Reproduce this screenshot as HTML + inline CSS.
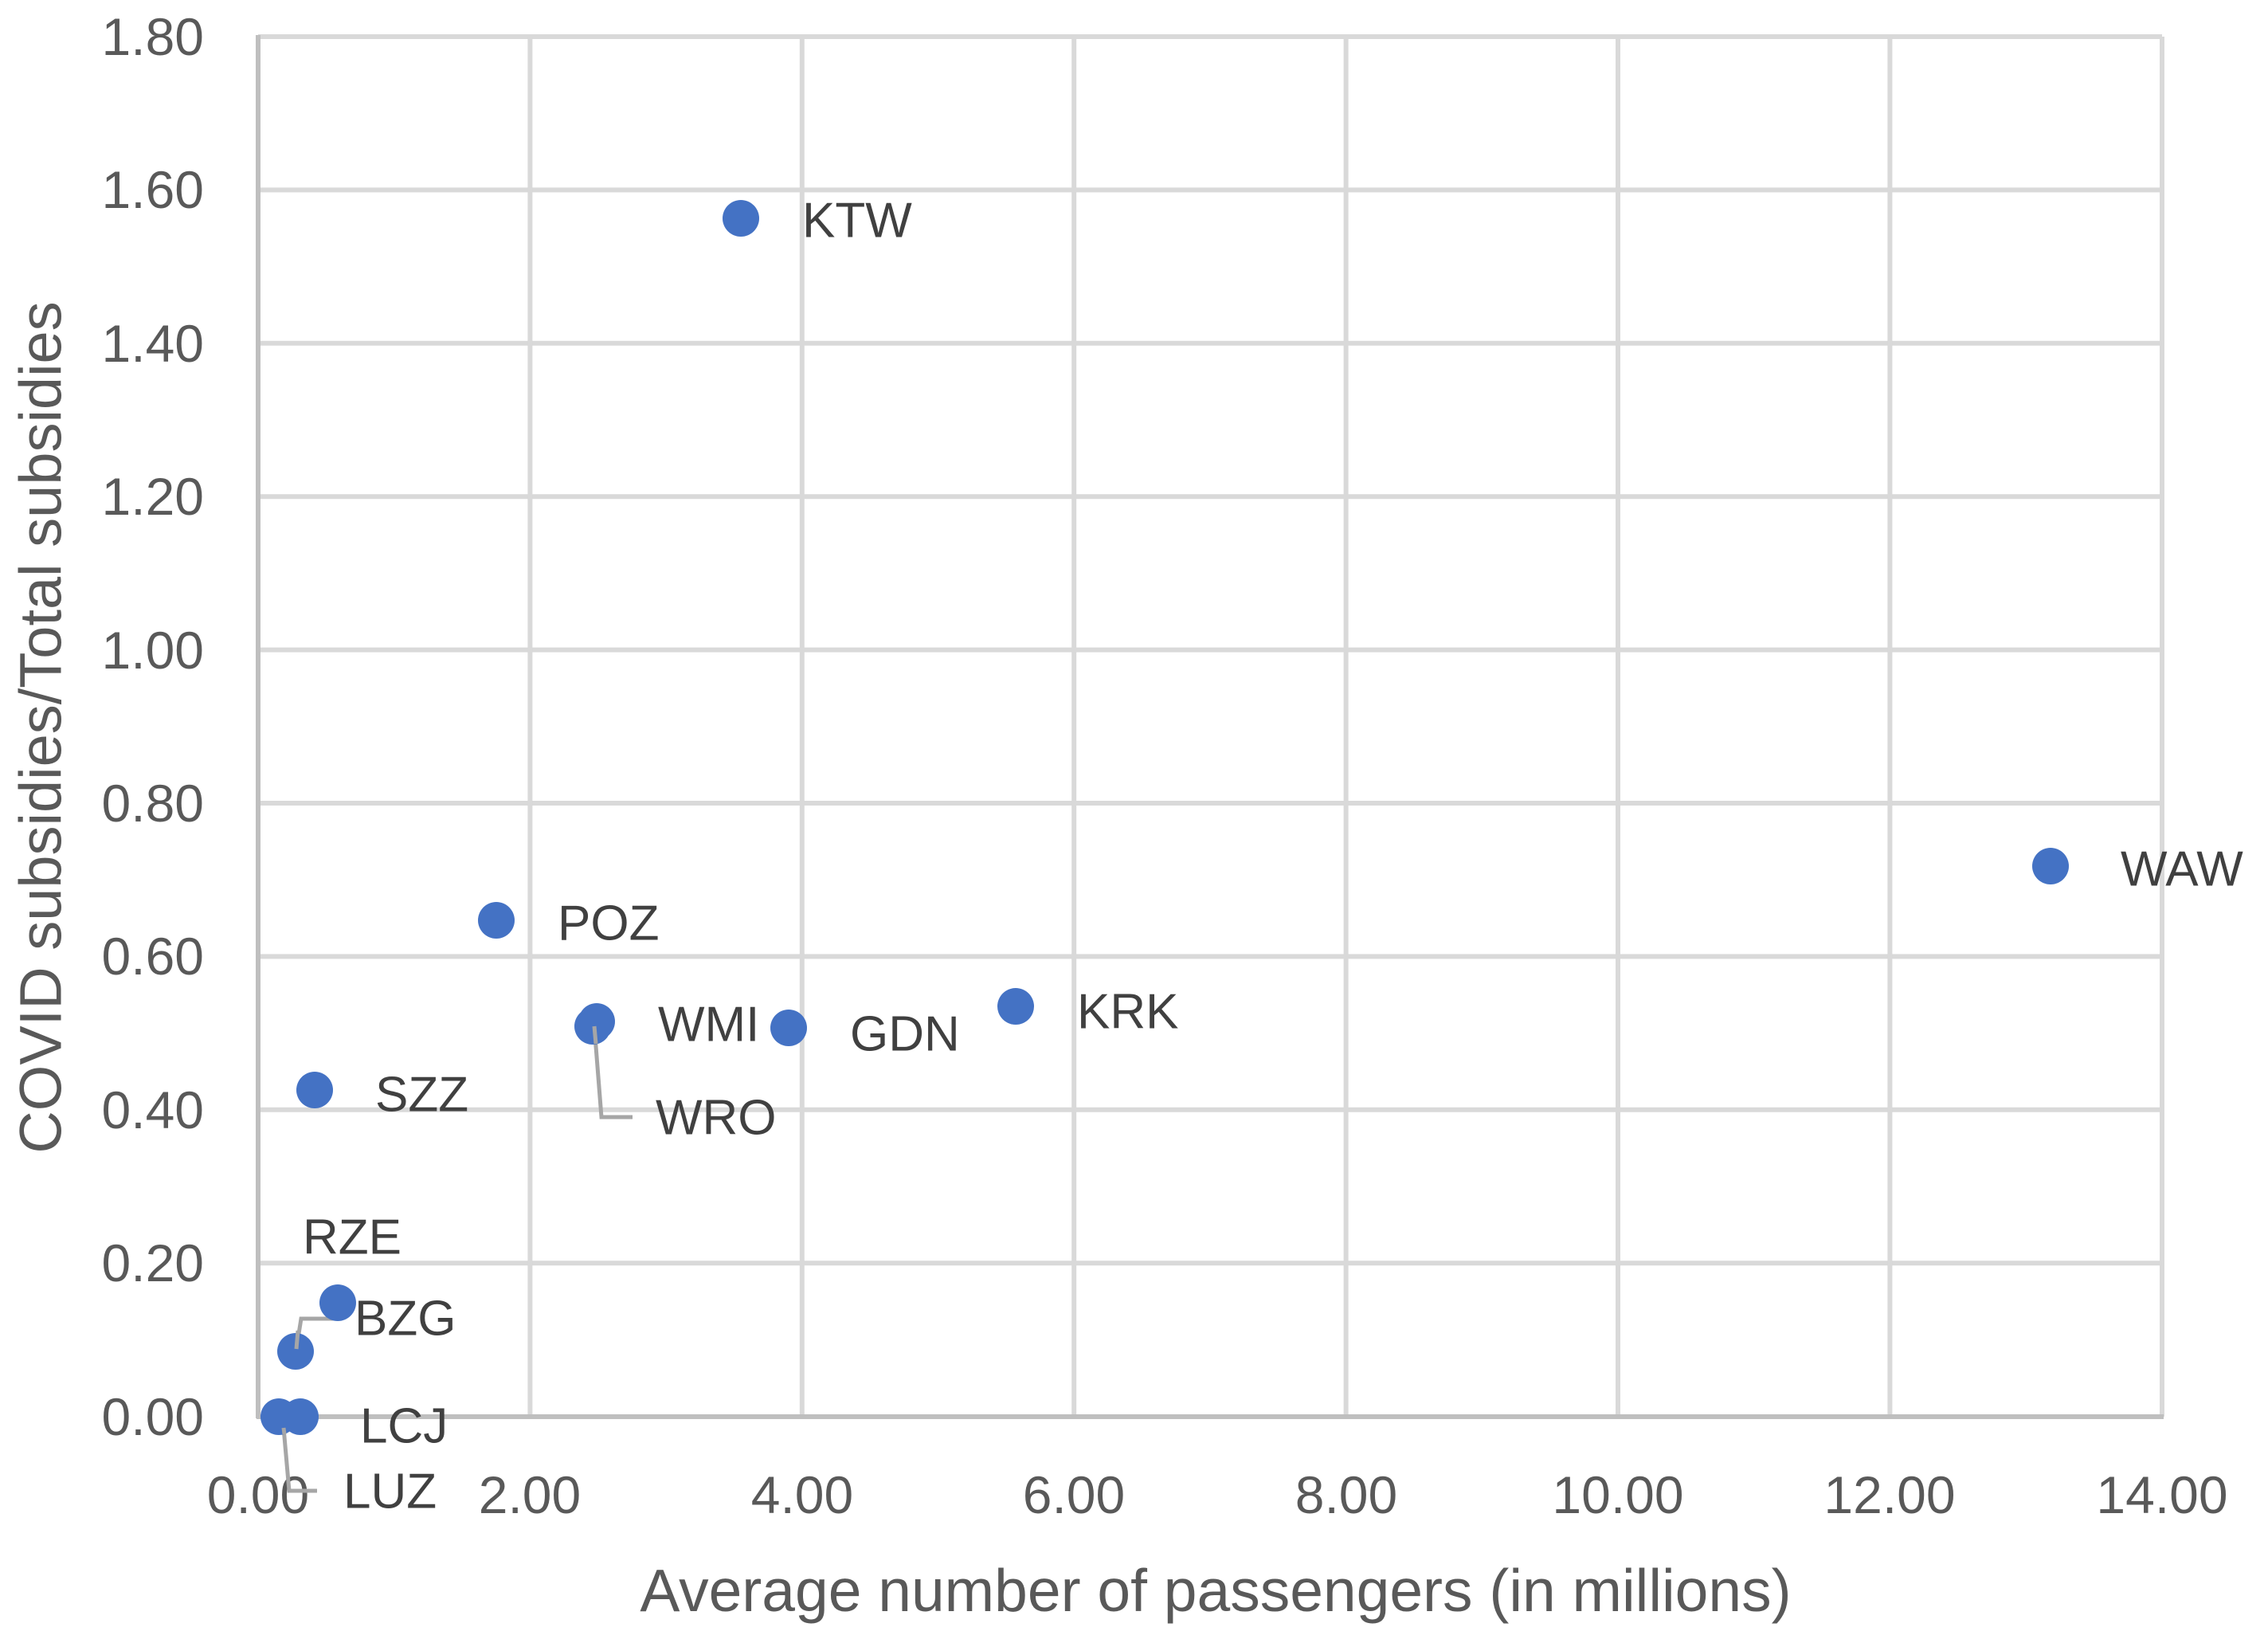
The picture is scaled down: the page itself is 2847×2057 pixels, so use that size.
<!DOCTYPE html>
<html><head><meta charset="utf-8"><style>body{margin:0;background:#fff}svg{display:block}</style></head>
<body>
<svg width="2847" height="2057" viewBox="0 0 2847 2057" xmlns="http://www.w3.org/2000/svg" font-family="'Liberation Sans', sans-serif">
<rect width="2847" height="2057" fill="#fff"/>
<g stroke="#d9d9d9" stroke-width="6">
<line x1="324" y1="46" x2="2714" y2="46"/>
<line x1="324" y1="238.4" x2="2714" y2="238.4"/>
<line x1="324" y1="430.8" x2="2714" y2="430.8"/>
<line x1="324" y1="623.2" x2="2714" y2="623.2"/>
<line x1="324" y1="815.6" x2="2714" y2="815.6"/>
<line x1="324" y1="1008" x2="2714" y2="1008"/>
<line x1="324" y1="1200.4" x2="2714" y2="1200.4"/>
<line x1="324" y1="1392.8" x2="2714" y2="1392.8"/>
<line x1="324" y1="1585.2" x2="2714" y2="1585.2"/>
<line x1="665.4" y1="46" x2="665.4" y2="1778"/>
<line x1="1006.8" y1="46" x2="1006.8" y2="1778"/>
<line x1="1348.2" y1="46" x2="1348.2" y2="1778"/>
<line x1="1689.6" y1="46" x2="1689.6" y2="1778"/>
<line x1="2031" y1="46" x2="2031" y2="1778"/>
<line x1="2372.4" y1="46" x2="2372.4" y2="1778"/>
<line x1="2714" y1="46" x2="2714" y2="1778"/>
</g>
<g stroke="#bfbfbf" stroke-width="6">
<line x1="324" y1="44" x2="324" y2="1780"/>
<line x1="322" y1="1778" x2="2716" y2="1778"/>
</g>
<g font-size="66" fill="#595959" text-anchor="end" dominant-baseline="central">
<text x="256" y="46">1.80</text>
<text x="256" y="238">1.60</text>
<text x="256" y="431">1.40</text>
<text x="256" y="623">1.20</text>
<text x="256" y="816">1.00</text>
<text x="256" y="1008">0.80</text>
<text x="256" y="1200">0.60</text>
<text x="256" y="1393">0.40</text>
<text x="256" y="1585">0.20</text>
<text x="256" y="1778">0.00</text>
</g>
<g font-size="66" fill="#595959" text-anchor="middle" dominant-baseline="central">
<text x="324" y="1876">0.00</text>
<text x="665" y="1876">2.00</text>
<text x="1007" y="1876">4.00</text>
<text x="1348" y="1876">6.00</text>
<text x="1690" y="1876">8.00</text>
<text x="2031" y="1876">10.00</text>
<text x="2372" y="1876">12.00</text>
<text x="2714" y="1876">14.00</text>
</g>
<text x="1526" y="1996" font-size="75" fill="#595959" text-anchor="middle" dominant-baseline="central">Average number of passengers (in millions)</text>
<text transform="translate(51,913) rotate(-90)" font-size="74" fill="#595959" text-anchor="middle" dominant-baseline="central">COVID subsidies/Total subsidies</text>
<g stroke="#a6a6a6" stroke-width="5" fill="none">
<polyline points="746,1288 755,1402 794,1402"/>
<polyline points="372,1693 378,1655 420,1655"/>
<polyline points="356,1792 363,1871 398,1871"/>
</g>
<g fill="#4472c4">
<circle cx="930" cy="274" r="23"/>
<circle cx="2574" cy="1087" r="23"/>
<circle cx="623" cy="1155" r="23"/>
<circle cx="744" cy="1288" r="23"/>
<circle cx="749" cy="1282" r="23"/>
<circle cx="990" cy="1290" r="23"/>
<circle cx="1275" cy="1263" r="23"/>
<circle cx="395" cy="1368" r="23"/>
<circle cx="424" cy="1635" r="23"/>
<circle cx="371" cy="1696" r="23"/>
<circle cx="377" cy="1778" r="23"/>
<circle cx="350" cy="1778" r="23"/>
</g>
<g stroke="#a6a6a6" stroke-width="5" fill="none">
<line x1="746" y1="1288" x2="748" y2="1310"/>
<line x1="372" y1="1693" x2="374" y2="1670"/>
<line x1="356" y1="1792" x2="357" y2="1800"/>
</g>
<g font-size="62" fill="#404040" dominant-baseline="central">
<text x="1007" y="277">KTW</text>
<text x="2662" y="1091">WAW</text>
<text x="700" y="1159">POZ</text>
<text x="826" y="1286">WMI</text>
<text x="1067" y="1298">GDN</text>
<text x="1352" y="1270">KRK</text>
<text x="471" y="1374">SZZ</text>
<text x="823" y="1403">WRO</text>
<text x="380" y="1553">RZE</text>
<text x="445" y="1655">BZG</text>
<text x="452" y="1790">LCJ</text>
<text x="431" y="1872">LUZ</text>
</g>
</svg>
</body></html>
